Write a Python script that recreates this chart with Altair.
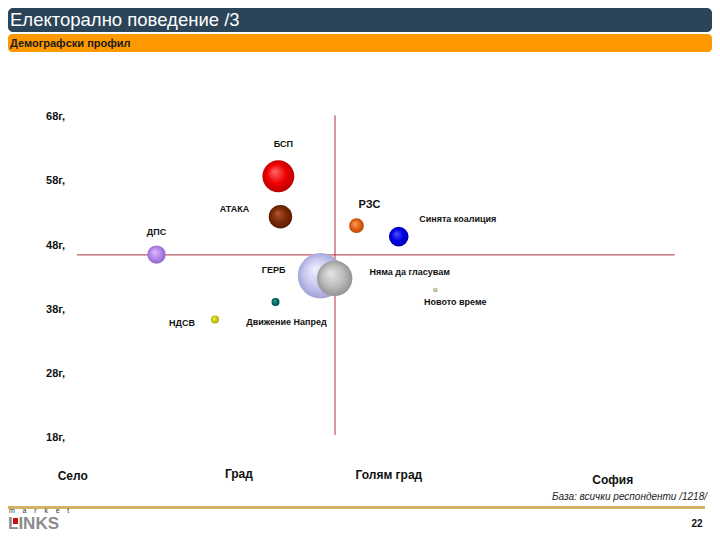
import altair as alt
import pandas as pd

# ---------------- data ----------------
parties = ["ГЕРБ", "Няма да гласувам", "БСП", "АТАКА", "ДПС", "РЗС",
           "Синята коалиция", "Новото време", "Движение Напред", "НДСВ"]
urban_index = [44.4, 46.4, 38.4, 38.7, 21.1, 49.5, 55.5, 60.7, 38.0, 29.4]
avg_age = [43.3, 42.9, 58.8, 52.5, 46.6, 51.1, 49.4, 41.1, 39.2, 36.5]
share = [26.0, 15.7, 12.7, 6.9, 4.2, 2.7, 4.8, 0.25, 0.8, 0.8]

age_ticks = [68, 58, 48, 38, 28, 18]
age_tick_labels = ["68г,", "58г,", "48г,", "38г,", "28г,", "18г,"]
settlements = ["Село", "Град", "Голям град", "София"]
settlement_pos = [9.2, 32.8, 54.1, 85.9]

mean_urban = 46.45
mean_age = 46.55
urban_extent = [9.8, 94.7]
age_extent = [18.5, 68.3]

# ---------------- styling ----------------
FONT = "Liberation Sans"
W, H = 704, 524
style = {
    "ГЕРБ": (["#F0F0FF", "#C8C8F0", "#9A9AD2"], -47, -6),
    "Няма да гласувам": (["#E6E6E6", "#BDBDBD", "#8C8C8C"], 75, -6),
    "БСП": (["#FF6A6A", "#EE0000", "#B00000"], 5, -32),
    "АТАКА": (["#B05530", "#7A2A08", "#561800"], -46, -8),
    "ДПС": (["#DDB8FF", "#B386EA", "#8862C2"], 0, -23),
    "РЗС": (["#F7A060", "#E46212", "#B04000"], 13, -21),
    "Синята коалиция": (["#5050FF", "#0000E6", "#0000A0"], 59, -18),
    "Новото време": (["#E0E0CC", "#C2C2A8", "#9C9C84"], 20, 12),
    "Движение Напред": (["#40A0A0", "#006A6A", "#004040"], 11, 20),
    "НДСВ": (["#EEEE60", "#CCCC10", "#A0A000"], -33, 4),
}
settle_y = {"Село": 467.5, "Град": 466, "Голям град": 466.5, "София": 472}

df = pd.DataFrame({"party": parties, "urban": urban_index, "age": avg_age, "share": share})
one = pd.DataFrame({"a": [0]})

xs = alt.Scale(domain=[0, 100], nice=False, zero=False)
ys = alt.Scale(domain=[3.4, 85.0], nice=False, zero=False)
X = alt.X("urban:Q", scale=xs, axis=None)
Y = alt.Y("age:Q", scale=ys, axis=None)
S = alt.Size("share:Q", scale=alt.Scale(domain=[0, 26], range=[0, 2080], zero=True), legend=None)

layers = []

# header bars
layers.append(alt.Chart(one).mark_rect(color="#2C4457", cornerRadius=5).encode(
    x=alt.value(0), x2=alt.value(W), y=alt.value(0), y2=alt.value(24)))
layers.append(alt.Chart(one).mark_rect(color="#FF9900", cornerRadius=4).encode(
    x=alt.value(0), x2=alt.value(W), y=alt.value(26), y2=alt.value(44)))
layers.append(alt.Chart(one).mark_text(text="Електорално поведение /3", color="white", font=FONT,
                                       fontSize=18.5, align="left", baseline="middle").encode(
    x=alt.value(2), y=alt.value(12)))
layers.append(alt.Chart(one).mark_text(text="Демографски профил", color="#1a1a1a", font=FONT,
                                       fontSize=11, fontWeight="bold", align="left", baseline="middle").encode(
    x=alt.value(2), y=alt.value(35.5)))

# quadrant lines
vline = pd.DataFrame({"urban": [mean_urban], "age": [age_extent[0]], "age2": [age_extent[1]]})
hline = pd.DataFrame({"urban": [urban_extent[0]], "urban2": [urban_extent[1]], "age": [mean_age]})
layers.append(alt.Chart(vline).mark_rule(color="#B03040", strokeWidth=1).encode(
    x=X, y=Y, y2="age2:Q"))
layers.append(alt.Chart(hline).mark_rule(color="#B03040", strokeWidth=1).encode(
    x=X, x2="urban2:Q", y=Y))

# bubbles and labels
for p in parties:
    cols, dx, dy = style[p]
    grad = alt.RadialGradient(
        gradient="radial",
        stops=[alt.GradientStop(color=cols[0], offset=0),
               alt.GradientStop(color=cols[1], offset=0.55),
               alt.GradientStop(color=cols[2], offset=1)],
        x1=0.38, y1=0.35, r1=0, x2=0.5, y2=0.5, r2=0.55)
    base = alt.Chart(df).transform_filter(alt.datum.party == p)
    layers.append(base.mark_circle(fill=grad, opacity=1, fillOpacity=1).encode(x=X, y=Y, size=S))

for p in parties:
    cols, dx, dy = style[p]
    base = alt.Chart(df).transform_filter(alt.datum.party == p)
    fs = 11 if p == "РЗС" else 9
    layers.append(base.mark_text(font=FONT, fontSize=fs, fontWeight="bold", color="#111",
                                 dx=dx, dy=dy, align="center", baseline="middle").encode(
        x=X, y=Y, text="party:N"))

# age tick labels
ticks = pd.DataFrame({"age": age_ticks, "lab": age_tick_labels})
layers.append(alt.Chart(ticks).mark_text(font=FONT, fontSize=11, fontWeight="bold", color="#111",
                                         align="right", baseline="middle").encode(
    x=alt.value(57), y=Y, text="lab:N"))

# settlement labels
st = pd.DataFrame({"urban": settlement_pos, "lab": settlements,
                   "py": [settle_y[s] for s in settlements]})
layers.append(alt.Chart(st).mark_text(font=FONT, fontSize=12, fontWeight="bold", color="#111",
                                      align="center", baseline="middle").encode(
    x=X, y=alt.Y("py:Q", scale=None, axis=None), text="lab:N"))

# footer
layers.append(alt.Chart(one).mark_text(text="База: всички респонденти /1218/", font=FONT, fontSize=10,
                                       fontStyle="italic", color="#222", align="right", baseline="middle").encode(
    x=alt.value(699), y=alt.value(488.5)))
layers.append(alt.Chart(one).mark_rule(color="#D4B264", strokeWidth=3).encode(
    x=alt.value(0), x2=alt.value(697), y=alt.value(499.5)))
nb = "\u00a0" * 4
layers.append(alt.Chart(one).mark_text(text=nb.join("market"), font=FONT, fontSize=7, color="#333",
                                       align="left", baseline="middle").encode(
    x=alt.value(1), y=alt.value(503)))
layers.append(alt.Chart(one).mark_text(text="LINKS", font=FONT, fontSize=17, fontWeight="bold", color="#8C8C8C",
                                       align="left", baseline="alphabetic").encode(
    x=alt.value(0), y=alt.value(521)))
layers.append(alt.Chart(one).mark_rect(color="#CC1010").encode(
    x=alt.value(5), x2=alt.value(10), y=alt.value(510), y2=alt.value(516)))
layers.append(alt.Chart(one).mark_text(text="22", font=FONT, fontSize=10, fontWeight="bold", color="#111",
                                       align="center", baseline="middle").encode(
    x=alt.value(689), y=alt.value(516)))

chart = alt.layer(*layers).properties(
    width=W, height=H, padding=0, autosize=alt.AutoSizeParams(type="none")
).configure_view(stroke=None)

chart.save("out.html", embed_options={"renderer": "svg", "actions": False})
